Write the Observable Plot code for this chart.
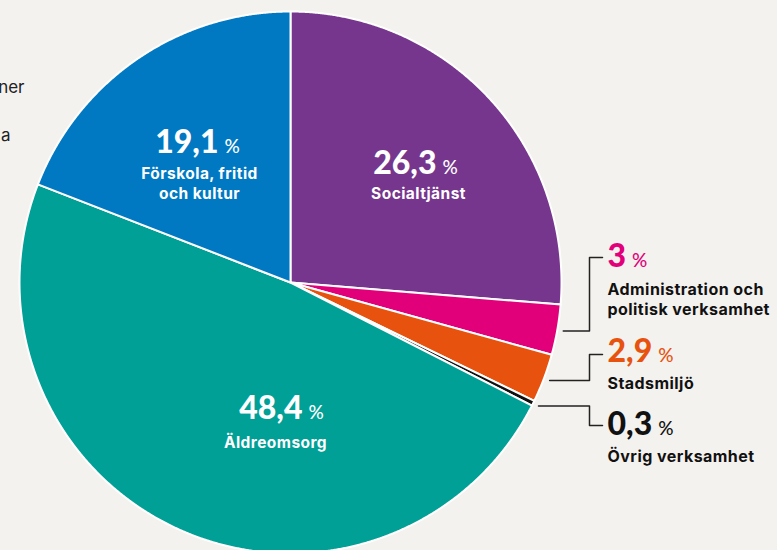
<!DOCTYPE html>
<html><head><meta charset="utf-8">
<script src="https://cdn.jsdelivr.net/npm/d3@7"></script>
<script src="https://cdn.jsdelivr.net/npm/@observablehq/plot@0.6"></script>
<style>
html,body{margin:0;padding:0;background:#f4f2ee;overflow:hidden;}
</style></head><body><div id="chart"></div>
<script>
// ---- data ----
const categories = ["Socialtjänst", "Administration och politisk verksamhet", "Stadsmiljö", "Övrig verksamhet", "Äldreomsorg", "Förskola, fritid och kultur"];
const shares = [26.3, 3, 2.9, 0.3, 48.4, 19.1];
const shareLabels = ["26,3", "3", "2,9", "0,3", "48,4", "19,1"];
const sliceLabels = ["Socialtjänst", "Administration och\npolitisk verksamhet", "Stadsmiljö", "Övrig verksamhet", "Äldreomsorg", "Förskola, fritid\noch kultur"];
const colors = ["#76368d", "#e2007a", "#e8520f", "#111111", "#00a096", "#0079c2"];
const cutTexts = ["ner", "a"];

// ---- layout (pixels) ----
const W = 777, H = 550, CX = 290, CY = 282, R = 271;
const inside = [
  {i: 0, numX: 415, labX: 418, numY: 173, labY: 198},
  {i: 5, numX: 197, labX: 199, numY: 152, labY: 198},
  {i: 4, numX: 281, labX: 275, numY: 418, labY: 447}
];
const outside = [
  {i: 1, numY: 266, labY: 314, leadY: 257},
  {i: 2, numY: 361, labY: 388, leadY: 354},
  {i: 3, numY: 434, labY: 461, leadY: 425}
];
const labelX = 607, elbowX = 589, endX = 602;
const cutLayout = [{x: 24, y: 92}, {x: 10, y: 140}];
const labelFont = "Inter, 'Open Sans', sans-serif";

// ---- derived geometry ----
const arcs = d3.pie().sort(null).value(d => d)(shares);
const slicePoints = [];
arcs.forEach((p, i) => {
  slicePoints.push({key: categories[i], x: 0, y: 0});
  const n = Math.max(2, Math.ceil((p.endAngle - p.startAngle) / 0.004));
  for (let k = 0; k <= n; k++) {
    const a = p.startAngle + (p.endAngle - p.startAngle) * k / n;
    slicePoints.push({key: categories[i], x: R * Math.sin(a), y: R * Math.cos(a)});
  }
});
const leaderPoints = [];
outside.forEach(o => {
  const p = arcs[o.i];
  const m = (p.startAngle + p.endAngle) / 2;
  const sx = (R + 6) * Math.sin(m), sy = (R + 6) * Math.cos(m);
  const key = categories[o.i];
  leaderPoints.push({key, x: sx, y: sy}, {key, x: elbowX - CX, y: sy}, {key, x: elbowX - CX, y: CY - o.leadY}, {key, x: endX - CX, y: CY - o.leadY});
});

const svg = Plot.plot({
  width: W, height: H, margin: 0,
  x: {domain: [-CX, W - CX], range: [0, W], axis: null},
  y: {domain: [CY - H, CY], range: [H, 0], axis: null},
  color: {domain: categories, range: colors},
  style: {background: "#f4f2ee", overflow: "hidden", fontFamily: "Lato, 'Open Sans', sans-serif"},
  marks: [
    Plot.line(slicePoints, {x: "x", y: "y", z: "key", fill: "key", stroke: "white", strokeWidth: 2, curve: "linear-closed", strokeLinejoin: "round"}),
    Plot.line(leaderPoints, {x: "x", y: "y", z: "key", stroke: "#222", strokeWidth: 1.5}),
    Plot.text(inside, {x: d => d.numX - CX, y: d => CY - d.numY, text: d => shareLabels[d.i], fill: "white", fontSize: 32, fontWeight: 900, textAnchor: "middle", lineAnchor: "bottom"}),
    Plot.text(inside, {x: d => d.labX - CX, y: d => CY - d.labY, text: d => sliceLabels[d.i], fill: "white", fontSize: 15.5, fontWeight: 700, fontFamily: labelFont, textAnchor: "middle", lineAnchor: "bottom", lineHeight: 1.23}),
    Plot.text(outside, {x: labelX - CX, y: d => CY - d.numY, text: d => shareLabels[d.i], fill: d => categories[d.i], fontSize: 32, fontWeight: 900, textAnchor: "start", lineAnchor: "bottom"}),
    Plot.text(outside, {x: labelX - CX, y: d => CY - d.labY, text: d => sliceLabels[d.i], fill: "#111", fontSize: 16, fontWeight: 700, fontFamily: labelFont, textAnchor: "start", lineAnchor: "bottom", lineHeight: 1.25}),
    Plot.text(cutLayout, {x: d => d.x - CX, y: d => CY - d.y, text: (d, i) => cutTexts[i], fill: "#222", fontSize: 17, fontWeight: 400, fontFamily: labelFont, textAnchor: "end", lineAnchor: "bottom"})
  ]
});

// smaller, lighter "%" after each share number
svg.querySelectorAll("text").forEach(t => {
  if (/^\d+(,\d+)?$/.test(t.textContent)) {
    const ts = document.createElementNS("http://www.w3.org/2000/svg", "tspan");
    ts.setAttribute("dx", "6");
    ts.setAttribute("font-size", "19");
    ts.setAttribute("font-weight", "500");
    ts.textContent = "%";
    t.appendChild(ts);
  }
});
// slightly wider tracking on the bold category labels
svg.querySelectorAll("g").forEach(g => {
  if (g.getAttribute("font-family") === labelFont && g.getAttribute("font-weight") === "700") g.setAttribute("letter-spacing", "0.45");
});
document.getElementById("chart").appendChild(svg);
</script></body></html>
